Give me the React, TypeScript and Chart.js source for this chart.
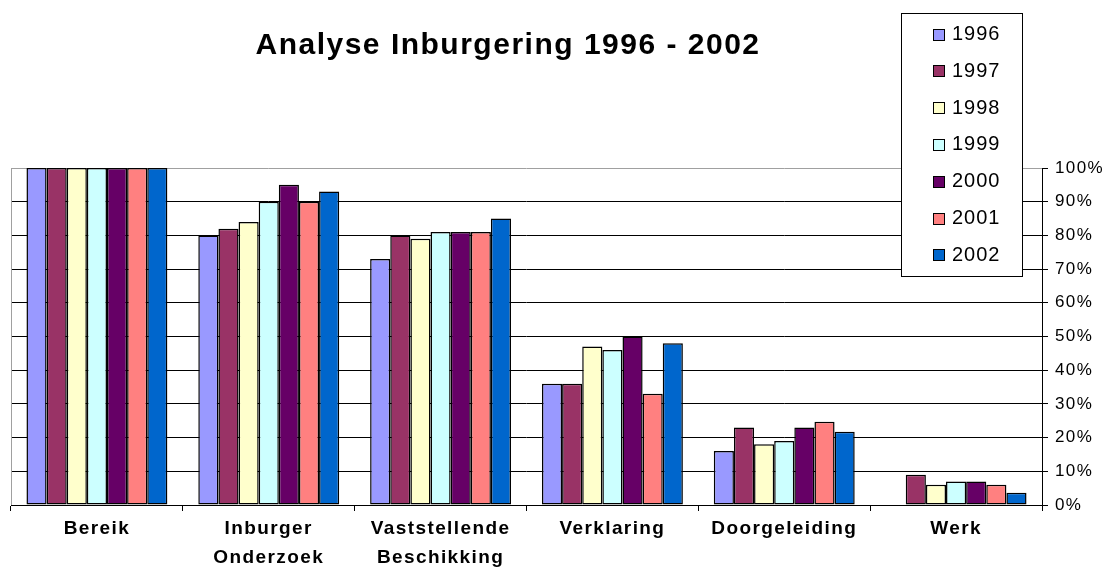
import React, { useEffect, useRef } from "react";
import { Chart, registerables } from "chart.js";

Chart.register(...registerables);

const TITLE = "Analyse Inburgering 1996 - 2002";
const categories: (string | string[])[] = [
  "Bereik",
  ["Inburger", "Onderzoek"],
  ["Vaststellende", "Beschikking"],
  "Verklaring",
  "Doorgeleiding",
  "Werk",
];
const years = ["1996", "1997", "1998", "1999", "2000", "2001", "2002"];
const colors = ["#9999FF", "#993366", "#FFFFCC", "#CCFFFF", "#660066", "#FF8080", "#0066CC"];

const v1996 = [100, 80, 73, 36, 16, null];
const v1997 = [100, 82, 80, 36, 23, 9];
const v1998 = [100, 84, 79, 47, 18, 6];
const v1999 = [100, 90, 81, 46, 19, 7];
const v2000 = [100, 95, 81, 50, 23, 7];
const v2001 = [100, 90, 81, 33, 24.7, 6];
const v2002 = [100, 93, 85, 48, 21.7, 3.6];
const seriesValues = [v1996, v1997, v1998, v1999, v2000, v2001, v2002];

const yTicks = [0, 10, 20, 30, 40, 50, 60, 70, 80, 90, 100];

const FONT = "'Liberation Sans', Arial, sans-serif";

const decorPlugin = {
  id: "decor",
  beforeDraw(chart: any) {
    const ctx = chart.ctx;
    ctx.letterSpacing = "1.4px";
  },
  beforeDatasetsDraw(chart: any) {
    const { ctx, chartArea } = chart;
    ctx.save();
    ctx.strokeStyle = "#a0a0a0";
    ctx.lineWidth = 1;
    ctx.beginPath();
    ctx.moveTo(chartArea.left + 0.5, chartArea.top);
    ctx.lineTo(chartArea.left + 0.5, chartArea.bottom);
    ctx.stroke();
    ctx.restore();
  },
  afterDraw(chart: any) {
    const ctx = chart.ctx;
    ctx.save();
    ctx.letterSpacing = "1.5px";
    // title
    ctx.fillStyle = "#000";
    ctx.font = `bold 30px ${FONT}`;
    ctx.textAlign = "center";
    ctx.textBaseline = "alphabetic";
    ctx.fillText(TITLE, 508, 54);
    // legend
    const bx = 901.5, by = 13.5, bw = 121, bh = 263;
    ctx.fillStyle = "#fff";
    ctx.fillRect(bx, by, bw, bh);
    ctx.strokeStyle = "#000";
    ctx.lineWidth = 1;
    ctx.strokeRect(bx, by, bw, bh);
    ctx.font = `20px ${FONT}`;
    ctx.letterSpacing = "1px";
    ctx.textAlign = "left";
    chart.data.datasets.forEach((ds: any, i: number) => {
      const base = 40 + i * 36.8;
      ctx.fillStyle = ds.backgroundColor;
      ctx.fillRect(933.5, Math.round(base - 11.5) + 0.5, 11, 11);
      ctx.strokeStyle = "#000";
      ctx.strokeRect(933.5, Math.round(base - 11.5) + 0.5, 11, 11);
      ctx.fillStyle = "#000";
      ctx.fillText(ds.label, 952, base);
    });
    ctx.restore();
  },
};

export default function App() {
  const ref = useRef<HTMLCanvasElement>(null);
  useEffect(() => {
    document.body.style.margin = "0";
    const canvas = ref.current!;
    const chart = new Chart(canvas, {
      type: "bar",
      data: {
        labels: categories,
        datasets: years.map((y, i) => ({
          label: y,
          data: seriesValues[i],
          backgroundColor: colors[i],
          borderColor: "#000",
          borderWidth: 1.5,
          borderSkipped: false,
          categoryPercentage: 0.82,
          barPercentage: 1.0,
        })),
      },
      options: {
        responsive: false,
        animation: false,
        devicePixelRatio: 1,
        layout: { padding: { top: 168, left: 11, right: 0, bottom: 0 } },
        plugins: {
          legend: { display: false },
          title: { display: false },
          tooltip: { enabled: false },
        },
        scales: {
          x: {
            afterFit(scale: any) {
              scale.height = 64;
            },
            grid: {
              offset: true,
              drawOnChartArea: false,
              color: "#000",
              tickLength: 6,
            },
            border: { display: true, color: "#000", width: 1 },
            ticks: {
              color: "#000",
              maxRotation: 0,
              autoSkip: false,
              padding: 4,
              font: { family: FONT, size: 19, weight: "bold", lineHeight: 1.5 },
            },
          },
          y: {
            position: "right",
            min: 0,
            max: 100,
            afterFit(scale: any) {
              scale.width = 63;
            },
            afterBuildTicks(scale: any) {
              scale.ticks = yTicks.map((v) => ({ value: v }));
            },
            grid: {
              color: (c: any) => (c.tick && c.tick.value === 100 ? "#a0a0a0" : "#000"),
              tickColor: "#000",
              tickLength: 6,
              lineWidth: 1,
            },
            border: { display: true, color: "#000", width: 1 },
            ticks: {
              color: "#000",
              padding: 7,
              font: { family: FONT, size: 17 },
              callback: (v: any) => `${v}%`,
            },
          },
        },
      },
      plugins: [decorPlugin],
    });
    return () => chart.destroy();
  }, []);
  return (
    <div style={{ width: 1105, height: 569 }}>
      <canvas ref={ref} width={1105} height={569} style={{ display: "block", width: 1105, height: 569 }} />
    </div>
  );
}
